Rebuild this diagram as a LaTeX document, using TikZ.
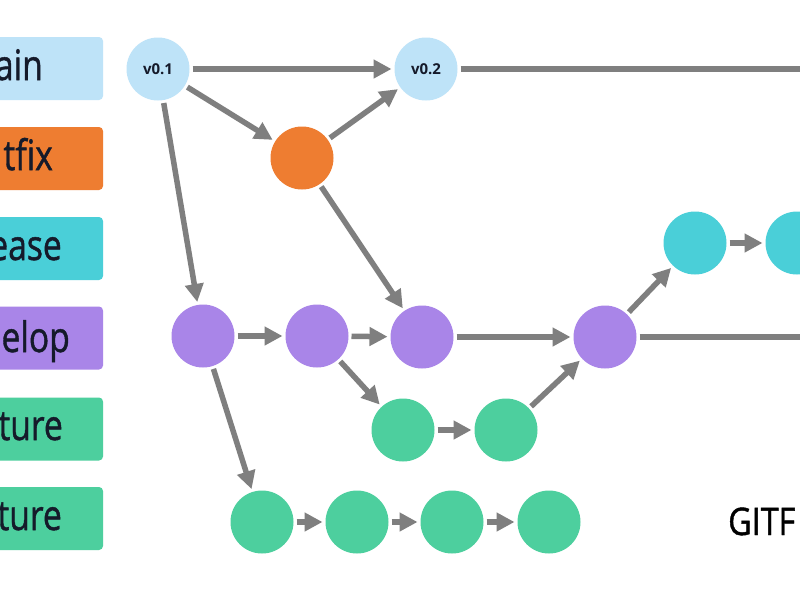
\documentclass[tikz,border=0pt]{standalone}
\usepackage{fontspec}
\usepackage{graphicx}
\setmainfont{Open Sans}
\newfontfamily\lblfont{Open Sans}[FakeBold=1.2]
\usetikzlibrary{arrows.meta}
\definecolor{mainc}{HTML}{BEE3F8}
\definecolor{hotc}{HTML}{EE7D31}
\definecolor{relc}{HTML}{4ACFD8}
\definecolor{devc}{HTML}{A985E8}
\definecolor{featc}{HTML}{4DCF9E}
\definecolor{arrc}{HTML}{7F7F7F}
\definecolor{txtc}{HTML}{151A2A}
\begin{document}
\begin{tikzpicture}[x=1pt,y=-1pt,
  commit/.style={circle,minimum size=63pt,inner sep=0pt,outer sep=3pt},
  lblbox/.style={rectangle,rounded corners=4pt,minimum width=113pt,minimum height=63pt,inner sep=0pt},
  lbltext/.style={anchor=base east,inner sep=0pt,text=txtc,font=\lblfont\fontsize{42}{44}\selectfont},
  flow/.style={draw=arrc,line width=5.5pt,-{Triangle[length=18pt,width=18pt]}},
  flat/.style={draw=arrc,line width=5.5pt}]
\useasboundingbox (0,0) rectangle (800,600);
\begin{scope}
\clip (0,0) rectangle (800,600);
\fill[white] (0,0) rectangle (800,600);
% label boxes
\node[lblbox,fill=mainc] (bmain) at (46.5,68.5) {};
\node[lblbox,fill=hotc] (bhot) at (46.5,158.5) {};
\node[lblbox,fill=relc] (brel) at (46.5,248.5) {};
\node[lblbox,fill=devc] (bdev) at (46.5,338) {};
\node[lblbox,fill=featc] (bfeat) at (46.5,429) {};
\node[lblbox,fill=featc] (bfeatb) at (46.5,518.5) {};
\node[lbltext] (tmain) at (43,80) {\scalebox{0.8}[1]{ain}};
\node[lbltext] (thot) at (53,170) {\scalebox{0.8}[1]{tfix}};
\node[lbltext] (trel) at (62,260) {\scalebox{0.8}[1]{ease}};
\node[lbltext] (tdev) at (70,352) {\scalebox{0.8}[1]{elop}};
\node[lbltext] (tfeat) at (63,440) {\scalebox{0.8}[1]{ture}};
\node[lbltext] (tfeatb) at (62,530) {\scalebox{0.8}[1]{ture}};
% commits
\node[commit,fill=mainc,font=\bfseries\fontsize{15}{16}\selectfont,text=txtc] (v01) at (158,69) {v0.1};
\node[commit,fill=mainc,font=\bfseries\fontsize{15}{16}\selectfont,text=txtc] (v02) at (426,69) {v0.2};
\node[commit,fill=hotc] (h1) at (302,158) {};
\node[commit,fill=relc] (r1) at (695,243) {};
\node[commit,fill=relc] (r2) at (797,243) {};
\node[commit,fill=devc] (d1) at (203,336) {};
\node[commit,fill=devc] (d2) at (317,336) {};
\node[commit,fill=devc] (d3) at (422,337) {};
\node[commit,fill=devc] (d4) at (605,337) {};
\node[commit,fill=featc] (fa1) at (403,430) {};
\node[commit,fill=featc] (fa2) at (506,430) {};
\node[commit,fill=featc] (fb1) at (262,522) {};
\node[commit,fill=featc] (fb2) at (357,522) {};
\node[commit,fill=featc] (fb3) at (452,522) {};
\node[commit,fill=featc] (fb4) at (549,522) {};
\coordinate (mainout) at (840,69);
\coordinate (devout) at (840,337);
\coordinate (relout) at (848,93);
% connectors
\draw[flow] (v01) -- (v02);
\draw[flow] (v01) -- (h1);
\draw[flow] (h1) -- (v02);
\draw[flow] (v01) -- (d1);
\draw[flow] (h1) -- (d3);
\draw[flat] (v02) -- (mainout);
\draw[flow] (d1) -- (d2);
\draw[flow] (d2) -- (d3);
\draw[flow] (d3) -- (d4);
\draw[flat] (d4) -- (devout);
\draw[flow] (d2) -- (fa1);
\draw[flow] (fa1) -- (fa2);
\draw[flow] (fa2) -- (d4);
\draw[flow] (d4) -- (r1);
\draw[flow] (r1) -- (r2);
\draw[flow] (r2) -- (relout);
\draw[flow] (d1) -- (fb1);
\draw[flow] (fb1) -- (fb2);
\draw[flow] (fb2) -- (fb3);
\draw[flow] (fb3) -- (fb4);
% title
\node[anchor=base west,inner sep=0pt,text=black,font=\lblfont\fontsize{38}{40}\selectfont] (title) at (728,535) {\scalebox{0.85}[1]{GITF}};
\end{scope}
\end{tikzpicture}
\end{document}
